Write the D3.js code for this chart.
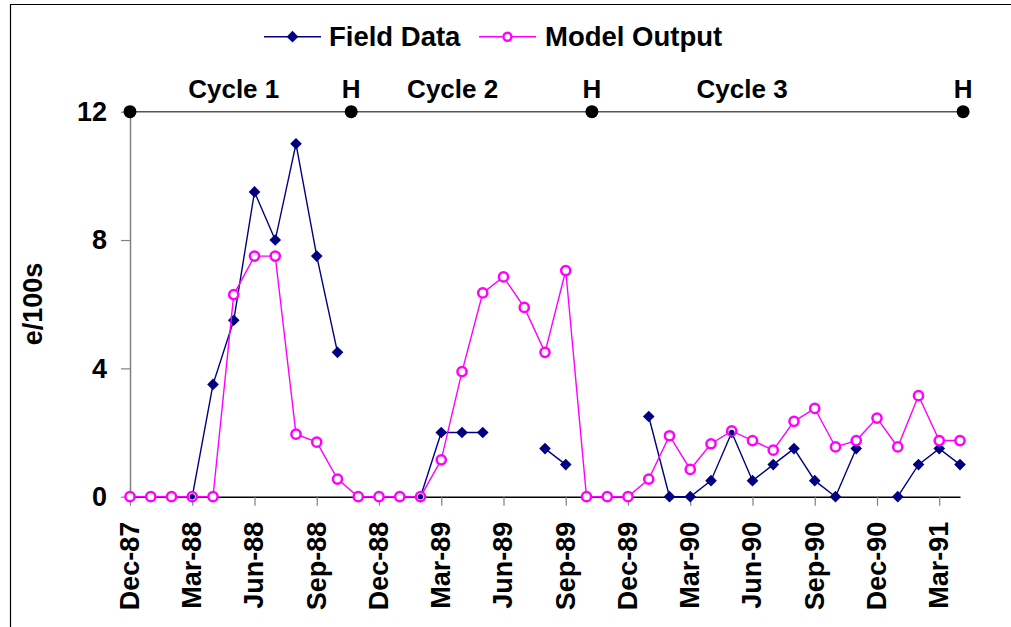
<!DOCTYPE html>
<html>
<head>
<meta charset="utf-8">
<script src="https://cdn.jsdelivr.net/npm/d3@7"></script>
<style>
  html, body { margin: 0; padding: 0; background: #fff; }
  svg { display: block; font-family: "Liberation Sans", Arial, sans-serif; font-weight: bold; }
</style>
</head>
<body>
<svg id="chart" width="1011" height="627"></svg>
<script>
// Monthly sampling, Dec-87 (index 0) to Apr-91 (index 40)
const tickIndex = [0, 3, 6, 9, 12, 15, 18, 21, 24, 27, 30, 33, 36, 39];
const tickLabels = ["Dec-87", "Mar-88", "Jun-88", "Sep-88", "Dec-88", "Mar-89", "Jun-89",
                    "Sep-89", "Dec-89", "Mar-90", "Jun-90", "Sep-90", "Dec-90", "Mar-91"];

// Field observations (null = no sample that month)
const fieldData = [null, null, null, 0, 3.5, 5.5, 9.5, 8, 11, 7.5, 4.5,
                   null, null, null, 0, 2, 2, 2, null, null, 1.5, 1,
                   null, null, null, 2.5, 0, 0, 0.5, 2, 0.5, 1, 1.5, 0.5, 0, 1.5,
                   null, 0, 1, 1.5, 1];

// Simulated values
const modelOutput = [0, 0, 0, 0, 0, 6.3, 7.5, 7.5, 1.95, 1.7, 0.55,
                     0, 0, 0, 0, 1.15, 3.9, 6.35, 6.85, 5.9, 4.5, 7.05,
                     0, 0, 0, 0.55, 1.9, 0.85, 1.65, 2.05, 1.75, 1.45, 2.35, 2.75, 1.55, 1.75,
                     2.45, 1.55, 3.15, 1.75, 1.75];

// Crop cycles and harvest markers (month offsets from Dec-87)
const harvestMarks = [0, 10.66, 22.26, 40.15];
const harvestLabels = ["H", "H", "H"];
const cycleNames = ["Cycle 1", "Cycle 2", "Cycle 3"];
const cycleLabelPos = [5.0, 15.55, 29.5];

const yTicks = [0, 4, 8, 12];
const cycleLevel = 12;

const svg = d3.select("#chart");
const x = d3.scaleLinear().domain([0, 40]).range([130, 960]);
const y = d3.scaleLinear().domain([0, 12]).range([496.7, 111.7]);

// outer frame
svg.append("line").attr("x1", 10.5).attr("x2", 10.5).attr("y1", 4).attr("y2", 627)
  .attr("stroke", "#000").attr("stroke-width", 1.2);
svg.append("line").attr("x1", 10).attr("x2", 1011).attr("y1", 4.5).attr("y2", 4.5)
  .attr("stroke", "#000").attr("stroke-width", 1.2);

// y axis
const yAxis = svg.append("g").attr("transform", `translate(${x(0)},0)`)
  .call(d3.axisLeft(y).tickValues(yTicks).tickSize(9).tickSizeOuter(0).tickPadding(14));
yAxis.select(".domain").attr("stroke", "#808080").attr("stroke-width", 1.5);
yAxis.selectAll(".tick line").attr("stroke", "#808080").attr("stroke-width", 1.2);
yAxis.selectAll(".tick text").attr("font-size", 27).attr("font-weight", "bold")
  .attr("font-family", "Liberation Sans, Arial, sans-serif").attr("fill", "#000");

svg.append("text")
  .attr("transform", "translate(42,304) rotate(-90)")
  .attr("text-anchor", "middle")
  .attr("font-size", 27)
  .text("e/100s");

// x axis
const xAxis = svg.append("g").attr("transform", `translate(0,${y(0)})`)
  .call(d3.axisBottom(x).tickValues(tickIndex).tickSize(9).tickSizeOuter(0)
    .tickFormat((d, i) => tickLabels[i]));
xAxis.select(".domain").attr("stroke", "#000").attr("stroke-width", 1.5);
xAxis.selectAll(".tick line").attr("stroke", "#808080").attr("stroke-width", 1.2);
xAxis.selectAll(".tick text")
  .attr("font-size", 27).attr("font-weight", "bold")
  .attr("font-family", "Liberation Sans, Arial, sans-serif").attr("fill", "#000")
  .attr("x", 0).attr("y", 0).attr("dy", "0.31em")
  .attr("text-anchor", "end")
  .attr("transform", "translate(0,25) rotate(-90)");

// harvest / cycle band at the top
svg.append("line")
  .attr("x1", x(harvestMarks[0])).attr("x2", x(harvestMarks[harvestMarks.length - 1]))
  .attr("y1", y(cycleLevel)).attr("y2", y(cycleLevel))
  .attr("stroke", "#555").attr("stroke-width", 1.6);
svg.selectAll(".hdot").data(harvestMarks).join("circle")
  .attr("cx", d => x(d)).attr("cy", y(cycleLevel)).attr("r", 6.5).attr("fill", "#000");
svg.selectAll(".hlabel").data(harvestMarks.slice(1)).join("text")
  .attr("x", d => x(d)).attr("y", 98).attr("text-anchor", "middle")
  .attr("font-size", 26).text((d, i) => harvestLabels[i]);
svg.selectAll(".clabel").data(cycleLabelPos).join("text")
  .attr("x", d => x(d)).attr("y", 98).attr("text-anchor", "middle")
  .attr("font-size", 26).text((d, i) => cycleNames[i]);

const navy = "#000080", magenta = "#FF00FF";
// square turned 45 degrees gives the even diamond marker
const diamond = d3.symbol().type(d3.symbolSquare).size(68);

// field data series
const fieldPts = fieldData.map((v, i) => ({ i, v }));
svg.append("path").datum(fieldPts)
  .attr("fill", "none").attr("stroke", navy).attr("stroke-width", 1.4)
  .attr("d", d3.line().defined(d => d.v !== null).x(d => x(d.i)).y(d => y(d.v)));
svg.selectAll(".fmark").data(fieldPts.filter(d => d.v !== null)).join("path")
  .attr("transform", d => `translate(${x(d.i)},${y(d.v)}) rotate(45)`)
  .attr("d", diamond).attr("fill", navy);

// model series
const modelPts = modelOutput.map((v, i) => ({ i, v }));
svg.append("path").datum(modelPts)
  .attr("fill", "none").attr("stroke", magenta).attr("stroke-width", 1.4)
  .attr("d", d3.line().x(d => x(d.i)).y(d => y(d.v)));
svg.selectAll(".mmark").data(modelPts).join("circle")
  .attr("cx", d => x(d.i)).attr("cy", d => y(d.v)).attr("r", 4.6)
  .attr("fill", "#fff").attr("stroke", magenta).attr("stroke-width", 2.5);

// where both series meet, the field point shows through as a dot
svg.selectAll(".both").data(fieldPts.filter(d => d.v !== null && Math.abs(d.v - modelOutput[d.i]) < 0.1))
  .join("circle")
  .attr("cx", d => x(d.i)).attr("cy", d => y(d.v)).attr("r", 2.7).attr("fill", navy);

// legend
const lg = svg.append("g");
lg.append("line").attr("x1", 264).attr("x2", 321).attr("y1", 36.7).attr("y2", 36.7)
  .attr("stroke", navy).attr("stroke-width", 1.4);
lg.append("path").attr("transform", "translate(292.5,36.7) rotate(45)").attr("d", diamond).attr("fill", navy);
lg.append("text").attr("x", 329).attr("y", 46).attr("font-size", 27.5).text("Field Data");
lg.append("line").attr("x1", 479).attr("x2", 536).attr("y1", 36.7).attr("y2", 36.7)
  .attr("stroke", magenta).attr("stroke-width", 1.4);
lg.append("circle").attr("cx", 507.5).attr("cy", 36.7).attr("r", 4)
  .attr("fill", "#fff").attr("stroke", magenta).attr("stroke-width", 2.4);
lg.append("text").attr("x", 545).attr("y", 46).attr("font-size", 27.5).text("Model Output");
</script>
</body>
</html>
